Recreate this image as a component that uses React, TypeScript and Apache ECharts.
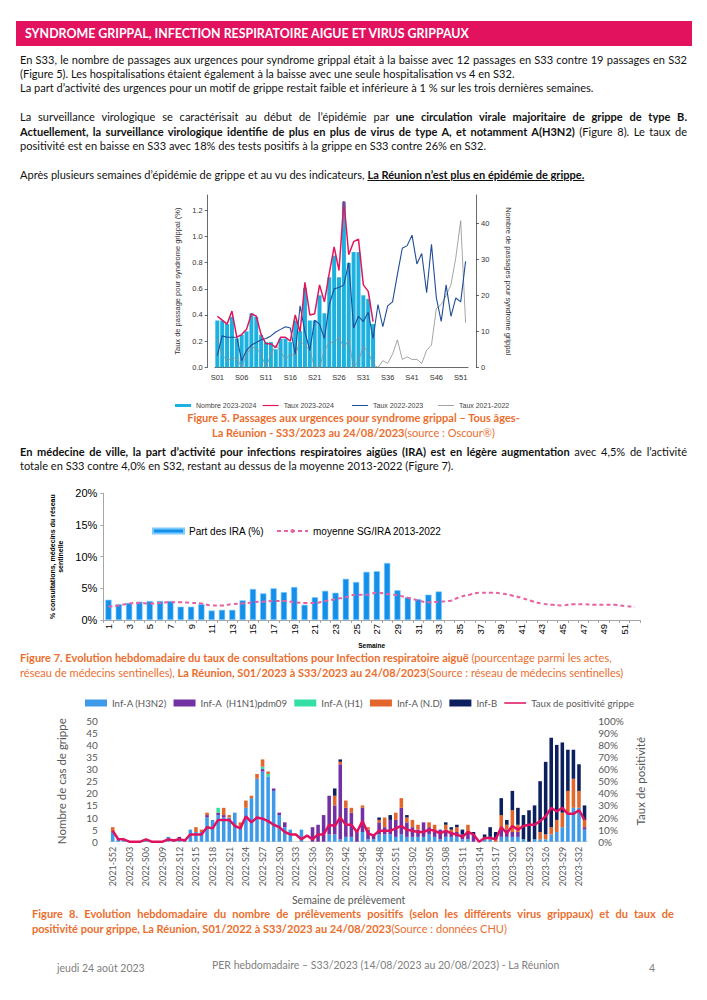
import React, { useEffect, useRef } from "react";
import * as echarts from "echarts";

// ---------- Figure 5 data ----------
const F5_WEEKS = Array.from({ length: 52 }, (_, i) => "S" + String(i + 1).padStart(2, "0"));
const F5_COUNT_2324 = [13, 13, 12, 14, 8, 9, 10, 15, 14, 9, 7, 7, 5, 8, 8, 7, 13, 10, 22, 13, 13, 20, 15, 25, 31, 25, 46, 29, 32, 32, 20, 19, 12];
const F5_RATE_2324 = [0.39, 0.36, 0.33, 0.43, 0.23, 0.25, 0.29, 0.41, 0.39, 0.25, 0.18, 0.18, 0.15, 0.23, 0.23, 0.2, 0.4, 0.27, 0.65, 0.4, 0.41, 0.63, 0.5, 0.72, 0.92, 0.74, 1.27, 0.86, 0.96, 0.98, 0.63, 0.58, 0.35];
const F5_RATE_2223 = [0.09, 0.24, 0.23, 0.23, 0.23, 0.05, 0.13, 0.17, 0.19, 0.21, 0.22, 0.24, 0.27, 0.29, 0.31, 0.3, 0.1, 0.47, 0.27, 0.13, 0.36, 0.33, 0.22, 0.48, 0.6, 0.61, 0.63, 0.8, 0.3, 0.39, 0.35, 0.42, 0.22, 0.48, 0.31, 0.47, 0.5, 0.71, 0.91, 0.93, 1.01, 0.79, 0.87, 0.57, 0.94, 0.53, 0.35, 0.63, 0.39, 0.53, 0.5, 0.81];
const F5_RATE_2122 = [0.22, 0.1, 0.05, 0.07, 0.07, 0.0, 0.1, 0.15, 0.15, 0.1, 0.0, 0.1, 0.17, 0.12, 0.06, 0.1, 0.09, 0.2, 0.17, 0.13, 0.0, 0.0, 0.13, 0.19, 0.19, 0.23, 0.15, 0.21, 0.0, 0.05, 0.16, 0.12, 0.02, 0.0, 0.05, 0.03, 0.1, 0.21, 0.06, 0.08, 0.06, 0.06, 0.03, 0.13, 0.17, 0.45, 0.48, 0.55, 0.63, 0.84, 1.12, 0.34];
const F5_LEFT_TICKS = [0, 0.2, 0.4, 0.6, 0.8, 1.0, 1.2];
const F5_RIGHT_TICKS = [0, 10, 20, 30, 40];

// ---------- Figure 7 data ----------
const F7_WEEKS = Array.from({ length: 52 }, (_, i) => String(i + 1));
const F7_IRA = [3.2, 2.5, 2.7, 2.9, 3.0, 3.0, 3.0, 2.1, 2.1, 2.5, 1.5, 1.6, 1.6, 3.1, 4.9, 4.2, 5.0, 4.4, 5.2, 2.4, 3.6, 4.6, 4.3, 6.5, 6.0, 7.6, 7.7, 9.0, 4.7, 3.6, 3.3, 4.0, 4.5];
const F7_MEAN = [2.1, 2.3, 2.6, 2.7, 2.6, 2.7, 2.8, 2.8, 2.7, 2.6, 2.3, 2.3, 2.5, 2.6, 2.8, 2.9, 3.0, 3.0, 2.8, 2.7, 2.7, 3.0, 3.3, 3.6, 4.0, 4.0, 4.3, 4.1, 3.9, 3.5, 3.1, 2.8, 2.9, 3.0, 3.6, 4.0, 4.3, 4.3, 4.2, 3.9, 3.5, 3.0, 2.6, 2.4, 2.3, 2.5, 2.5, 2.4, 2.4, 2.4, 2.2, 2.1];

// ---------- Figure 8 data ----------
const F8_WEEKS = [
  "2021-S52",
  ...Array.from({ length: 52 }, (_, i) => "2022-S" + String(i + 1).padStart(2, "0")),
  ...Array.from({ length: 33 }, (_, i) => "2023-S" + String(i + 1).padStart(2, "0")),
];
const F8_H3N2 = [4, 1, 1, 0, 0, 0, 1, 0, 0, 0, 2, 1, 1, 1, 5, 4, 4, 10, 9, 11, 10, 10, 12, 6, 14, 18, 26, 29, 27, 21, 11, 6, 5, 0, 5, 0, 0, 0, 0, 3, 3, 1, 2, 2, 0, 4, 1, 1, 3, 3, 3, 2, 3, 2, 2, 2, 2, 3, 2, 1, 2, 2, 2, 1, 1, 0, 0, 1, 1, 0, 2, 2, 2, 2, 1, 0, 1, 1, 1, 3, 4, 6, 12, 14, 14, 5];
const F8_H1N1 = [0, 0, 0, 0, 0, 0, 0, 0, 0, 0, 0, 0, 1, 0, 0, 0, 0, 1, 0, 1, 1, 0, 0, 0, 0, 0, 0, 1, 0, 1, 1, 2, 0, 0, 0, 0, 6, 7, 11, 16, 12, 31, 12, 10, 4, 10, 4, 2, 5, 3, 6, 7, 11, 6, 4, 3, 6, 3, 2, 4, 3, 2, 2, 2, 3, 3, 0, 0, 0, 0, 3, 3, 2, 2, 0, 0, 0, 0, 0, 0, 0, 0, 0, 0, 0, 1];
const F8_H1 = [0, 0, 0, 0, 0, 0, 0, 0, 0, 0, 0, 0, 0, 0, 0, 0, 0, 0, 0, 2, 0, 0, 0, 0, 0, 0, 0, 1, 1, 0, 0, 0, 0, 0, 0, 0, 0, 0, 0, 0, 0, 0, 0, 0, 0, 0, 0, 0, 0, 0, 0, 0, 0, 0, 0, 0, 0, 0, 0, 0, 0, 0, 0, 0, 0, 0, 0, 0, 0, 0, 0, 0, 0, 0, 0, 0, 0, 0, 0, 0, 0, 0, 0, 0, 0, 0];
const F8_ND = [2, 0, 0, 0, 0, 0, 0, 0, 0, 0, 0, 0, 0, 0, 0, 2, 1, 1, 0, 0, 3, 1, 0, 2, 3, 1, 2, 3, 1, 0, 0, 0, 0, 0, 0, 0, 0, 0, 0, 0, 4, 1, 3, 2, 1, 1, 1, 0, 1, 4, 0, 3, 4, 2, 3, 2, 0, 2, 3, 0, 2, 1, 2, 0, 3, 0, 0, 0, 1, 1, 6, 2, 9, 3, 0, 0, 0, 3, 2, 3, 5, 6, 9, 12, 7, 3];
const F8_B = [0, 0, 0, 0, 0, 0, 0, 0, 0, 0, 0, 0, 0, 0, 0, 0, 0, 0, 0, 0, 0, 0, 0, 0, 0, 0, 0, 0, 0, 0, 0, 0, 0, 0, 0, 0, 0, 0, 0, 0, 3, 1, 0, 0, 0, 0, 0, 0, 1, 0, 2, 0, 0, 1, 0, 0, 0, 0, 0, 0, 1, 1, 1, 2, 0, 1, 0, 2, 4, 3, 7, 2, 8, 7, 10, 13, 14, 21, 30, 37, 31, 29, 17, 12, 11, 6];
const F8_POS = [9, 2, 2, 0, 0, 0, 2, 0, 0, 0, 2, 1, 2, 1, 6, 6, 6, 12, 11, 18, 18, 18, 13, 11, 21, 16, 20, 19, 17, 14, 12, 8, 6, 6, 2, 5, 2, 6, 6, 14, 13, 20, 14, 14, 8, 17, 7, 5, 9, 9, 9, 11, 13, 10, 9, 8, 8, 10, 9, 7, 9, 7, 6, 4, 8, 6, 0, 3, 3, 2, 12, 7, 13, 10, 13, 14, 14, 17, 21, 28, 25, 28, 23, 23, 26, 18];

const LATO = 'Lato, "Open Sans", sans-serif';
const ARIAL = '"Liberation Sans", Arial, sans-serif';
const ORANGE = "#EB6E2E";
// thin horizontal line icon for legend (bounding box 100x32, bar in the middle)
const LINE_ICON = "path://M0,0L0.01,0L0,0.01Z M0,13H100V19H0Z M100,32L99.99,32L100,31.99Z";

function pad(arr: number[], n: number) {
  return [...arr, ...Array(n - arr.length).fill(null)];
}

function fig5Option() {
  const lg = (name: string, left: number, h: number) => ({
    data: [name],
    left,
    top: 207,
    icon: "rect",
    itemWidth: 16,
    itemHeight: h,
    textStyle: { fontSize: 7, color: "#444", fontFamily: ARIAL },
  });
  return {
    animation: false,
    grid: { left: 54.9, right: 62, top: 5, bottom: 47.7, outerBoundsMode: "none" },
    legend: [
      lg("Nombre 2023-2024", 10, 3),
      lg("Taux 2023-2024", 97.7, 1.2),
      lg("Taux 2022-2023", 187, 1),
      lg("Taux 2021-2022", 273, 0.8),
    ],
    xAxis: {
      type: "category",
      data: F5_WEEKS,
      axisLine: { lineStyle: { color: "#444", width: 0.8 } },
      axisTick: { alignWithLabel: true, interval: (i: number) => i % 5 === 0, length: 3, lineStyle: { color: "#444", width: 0.8 } },
      axisLabel: { interval: (i: number) => i % 5 === 0, fontSize: 7.5, color: "#333", margin: 6, fontFamily: ARIAL },
    },
    yAxis: [
      {
        type: "value",
        min: 0,
        max: 1.317,
        position: "left",
        offset: 7.2,
        splitLine: { show: false },
        axisLine: { show: true, lineStyle: { color: "#444", width: 0.8 } },
        axisTick: { show: true, length: 3, customValues: F5_LEFT_TICKS, lineStyle: { color: "#444", width: 0.8 } },
        axisLabel: { customValues: F5_LEFT_TICKS, formatter: (v: number) => v.toFixed(1), fontSize: 7.5, color: "#333", margin: 5, fontFamily: ARIAL },
        name: "Taux de passage pour syndrome grippal (%)",
        nameLocation: "middle",
        nameGap: 24,
        nameRotate: 90,
        nameTextStyle: { fontSize: 7.5, color: "#333", fontFamily: ARIAL },
      },
      {
        type: "value",
        min: 0,
        max: 47.86,
        position: "right",
        offset: 8,
        splitLine: { show: false },
        axisLine: { show: true, lineStyle: { color: "#444", width: 0.8 } },
        axisTick: { show: true, length: 3, customValues: F5_RIGHT_TICKS, lineStyle: { color: "#444", width: 0.8 } },
        axisLabel: { customValues: F5_RIGHT_TICKS, fontSize: 7.5, color: "#333", margin: 5, fontFamily: ARIAL },
        name: "Nombre de passages pour syndrome grippal",
        nameLocation: "middle",
        nameGap: 28,
        nameRotate: -90,
        nameTextStyle: { fontSize: 7.5, color: "#333", fontFamily: ARIAL },
      },
    ],
    series: [
      { name: "Nombre 2023-2024", type: "bar", yAxisIndex: 1, data: pad(F5_COUNT_2324, 52), barCategoryGap: "18%", itemStyle: { color: "#1CB1DE" } },
      { name: "Taux 2021-2022", type: "line", yAxisIndex: 0, data: F5_RATE_2122, symbol: "none", lineStyle: { color: "#8E8E8E", width: 0.8 }, itemStyle: { color: "#8E8E8E" } },
      { name: "Taux 2022-2023", type: "line", yAxisIndex: 0, data: F5_RATE_2223, symbol: "none", lineStyle: { color: "#1E4C98", width: 1.1 }, itemStyle: { color: "#1E4C98" } },
      { name: "Taux 2023-2024", type: "line", yAxisIndex: 0, data: pad(F5_RATE_2324, 52), symbol: "none", lineStyle: { color: "#E0175F", width: 1.5 }, itemStyle: { color: "#E0175F" } },
    ],
  };
}

function fig7Option() {
  return {
    animation: false,
    grid: { left: 63.3, right: 20, top: 13.3, bottom: 32, outerBoundsMode: "none" },
    legend: {
      left: 107,
      top: 41,
      itemWidth: 31,
      itemHeight: 5,
      itemGap: 12,
      textStyle: { fontSize: 10, color: "#000", fontFamily: ARIAL },
      data: [{ name: "Part des IRA (%)", icon: "rect" }, { name: "moyenne SG/IRA 2013-2022" }],
    },
    xAxis: {
      type: "category",
      data: F7_WEEKS,
      axisLine: { lineStyle: { color: "#A6A6A6" } },
      axisTick: { show: true, interval: 0, length: 3, lineStyle: { color: "#A6A6A6" } },
      axisLabel: { interval: 1, rotate: 90, fontSize: 9.5, color: "#000", margin: 4, fontFamily: ARIAL },
      name: "Semaine",
      nameLocation: "middle",
      nameGap: 22,
      nameTextStyle: { fontSize: 6.5, fontWeight: "bold", color: "#000", fontFamily: ARIAL },
    },
    yAxis: {
      type: "value",
      min: 0,
      max: 20,
      interval: 5,
      splitLine: { show: false },
      axisLine: { show: true, lineStyle: { color: "#A6A6A6" } },
      axisTick: { show: true, length: 3, lineStyle: { color: "#A6A6A6" } },
      axisLabel: { formatter: "{value}%", fontSize: 11, color: "#000", margin: 6, fontFamily: ARIAL },
      name: "% consultations, médecins du réseau\nsentinelle",
      nameLocation: "middle",
      nameGap: 31,
      nameRotate: 90,
      nameTextStyle: { fontSize: 7, fontWeight: "bold", color: "#000", fontFamily: ARIAL, lineHeight: 8 },
    },
    series: [
      { name: "Part des IRA (%)", type: "bar", data: pad(F7_IRA, 52), barCategoryGap: "40%", itemStyle: { color: "#1590EA", borderColor: "#7CCBFF", borderWidth: 0.6 } },
      { name: "moyenne SG/IRA 2013-2022", type: "line", data: F7_MEAN, smooth: true, symbol: "none", lineStyle: { color: "#E9619F", width: 2, type: [4, 3] }, itemStyle: { color: "#E9619F" } },
    ],
  };
}

function fig8Option() {
  const bar = (name: string, data: number[], color: string) => ({
    name,
    type: "bar",
    stack: "virus",
    data,
    barCategoryGap: "36%",
    itemStyle: { color },
  });
  return {
    animation: false,
    grid: { left: 69.9, right: 92.7, top: 32.7, bottom: 64.3, outerBoundsMode: "none" },
    legend: {
      left: 40,
      top: 5,
      itemWidth: 22,
      itemHeight: 7,
      itemGap: 7,
      textStyle: { fontSize: 9.6, color: "#595959", fontFamily: LATO },
      data: [
        { name: "Inf-A (H3N2)", icon: "rect" },
        { name: "Inf-A  (H1N1)pdm09", icon: "rect" },
        { name: "Inf-A (H1)", icon: "rect" },
        { name: "Inf-A (N.D)", icon: "rect" },
        { name: "Inf-B", icon: "rect" },
        { name: "Taux de positivité grippe", icon: LINE_ICON },
      ],
    },
    xAxis: {
      type: "category",
      data: F8_WEEKS,
      axisLine: { lineStyle: { color: "#D9D9D9" } },
      axisTick: { show: false },
      axisLabel: { interval: 2, rotate: 90, fontSize: 9, color: "#595959", margin: 5, fontFamily: LATO },
      name: "Semaine de prélèvement",
      nameLocation: "middle",
      nameGap: 52,
      nameTextStyle: { fontSize: 10.5, color: "#595959", fontFamily: LATO },
    },
    yAxis: [
      {
        type: "value",
        min: 0,
        max: 50,
        interval: 5,
        splitLine: { show: false },
        axisLine: { show: false },
        axisTick: { show: false },
        axisLabel: { fontSize: 10, color: "#595959", margin: 12, fontFamily: LATO },
        name: "Nombre de cas de grippe",
        nameLocation: "middle",
        nameGap: 42,
        nameRotate: 90,
        nameTextStyle: { fontSize: 11.5, color: "#595959", fontFamily: LATO },
      },
      {
        type: "value",
        min: 0,
        max: 100,
        interval: 10,
        splitLine: { show: false },
        axisLine: { show: false },
        axisTick: { show: false },
        axisLabel: { formatter: "{value}%", fontSize: 10, color: "#595959", margin: 11, fontFamily: LATO },
        name: "Taux de positivité",
        nameLocation: "middle",
        nameGap: 37,
        nameRotate: 90,
        nameTextStyle: { fontSize: 11.5, color: "#595959", fontFamily: LATO },
      },
    ],
    series: [
      bar("Inf-A (H3N2)", F8_H3N2, "#3E9BEA"),
      bar("Inf-A  (H1N1)pdm09", F8_H1N1, "#7232A3"),
      bar("Inf-A (H1)", F8_H1, "#33DFA4"),
      bar("Inf-A (N.D)", F8_ND, "#E3662C"),
      bar("Inf-B", F8_B, "#0C1F5E"),
      { name: "Taux de positivité grippe", type: "line", yAxisIndex: 1, data: F8_POS, symbol: "none", lineStyle: { color: "#E0115F", width: 2.5 }, itemStyle: { color: "#E0115F" } },
    ],
  };
}

function Chart({ option, style }: { option: any; style: React.CSSProperties }) {
  const ref = useRef<HTMLDivElement>(null);
  useEffect(() => {
    if (!ref.current) return;
    const c = echarts.init(ref.current, undefined, { renderer: "svg" });
    c.setOption(option);
    return () => c.dispose();
  }, []);
  return <div ref={ref} style={{ position: "absolute", ...style }} />;
}

function L({ top, left = 20, width = 667, j = false, center = false, color = "#111", size = 11.05, children }: any) {
  const align = center ? "center" : j ? "justify" : "left";
  return (
    <div
      style={{
        position: "absolute",
        top,
        left,
        width,
        fontSize: size,
        lineHeight: "14px",
        color,
        fontFamily: LATO,
        textAlign: align as any,
        textAlignLast: align as any,
      }}
    >
      {children}
    </div>
  );
}

export default function App() {
  return (
    <div style={{ position: "absolute", left: 0, top: 0, width: 707, height: 1000, background: "#fff", overflow: "hidden", fontFamily: LATO }}>
      <div style={{ position: "absolute", left: 16, top: 21, width: 676, height: 25, background: "#E2125F" }} />
      <div style={{ position: "absolute", left: 25, top: 25, fontSize: 12.4, lineHeight: "17px", fontWeight: 700, color: "#fff", fontFamily: LATO }}>
        SYNDROME GRIPPAL, INFECTION RESPIRATOIRE AIGUE ET VIRUS GRIPPAUX
      </div>

      <L top={53} j>En S33, le nombre de passages aux urgences pour syndrome grippal était à la baisse avec 12 passages en S33 contre 19 passages en S32</L>
      <L top={67}>(Figure 5). Les hospitalisations étaient également à la baisse avec une seule hospitalisation vs 4 en S32.</L>
      <L top={81}>La part d’activité des urgences pour un motif de grippe restait faible et inférieure à 1 % sur les trois dernières semaines.</L>
      <L top={110} j>
        La surveillance virologique se caractérisait au début de l’épidémie par <b>une circulation virale majoritaire de grippe de type B.</b>
      </L>
      <L top={125} j>
        <b>Actuellement, la surveillance virologique identifie de plus en plus de virus de type A, et notamment A(H3N2)</b> (Figure 8). Le taux de
      </L>
      <L top={139}>positivité est en baisse en S33 avec 18% des tests positifs à la grippe en S33 contre 26% en S32.</L>
      <L top={168}>
        Après plusieurs semaines d’épidémie de grippe et au vu des indicateurs, <b><u>La Réunion n’est plus en épidémie de grippe.</u></b>
      </L>

      <Chart option={fig5Option()} style={{ left: 160, top: 190, width: 370, height: 225 }} />

      <L top={411} left={0} width={707} center color={ORANGE}>
        <b>Figure 5. Passages aux urgences pour syndrome grippal – Tous âges-</b>
      </L>
      <L top={426} left={0} width={707} center color={ORANGE}>
        <b>La Réunion - S33/2023 au 24/08/2023</b>(source : Oscour®)
      </L>

      <L top={445} j>
        <b>En médecine de ville, la part d’activité pour infections respiratoires aigües (IRA) est en légère augmentation</b> avec 4,5% de l’activité
      </L>
      <L top={459}>totale en S33 contre 4,0% en S32, restant au dessus de la moyenne 2013-2022 (Figure 7).</L>

      <Chart option={fig7Option()} style={{ left: 40, top: 480, width: 620, height: 172 }} />

      <L top={651} color={ORANGE}>
        <b>Figure 7. Evolution hebdomadaire du taux de consultations pour Infection respiratoire aiguë</b> (pourcentage parmi les actes,
      </L>
      <L top={666} color={ORANGE}>
        réseau de médecins sentinelles), <b>La Réunion, S01/2023 à S33/2023 au 24/08/2023</b>(Source : réseau de médecins sentinelles)
      </L>

      <Chart option={fig8Option()} style={{ left: 40, top: 688, width: 640, height: 218 }} />

      <L top={907} left={32} width={642} j color={ORANGE}>
        <b>Figure 8. Evolution hebdomadaire du nombre de prélèvements positifs (selon les différents virus grippaux) et du taux de</b>
      </L>
      <L top={922} left={32} width={660} color={ORANGE}>
        <b>positivité pour grippe, La Réunion, S01/2022 à S33/2023 au 24/08/2023</b>(Source : données CHU)
      </L>

      <L top={961} left={57} width={200} color="#808080" size={10.5}>jeudi 24 août 2023</L>
      <L top={958} left={212} width={400} color="#808080" size={10.5}>PER hebdomadaire – S33/2023 (14/08/2023 au 20/08/2023) - La Réunion</L>
      <L top={961} left={649} width={20} color="#808080" size={10.5}>4</L>
    </div>
  );
}
